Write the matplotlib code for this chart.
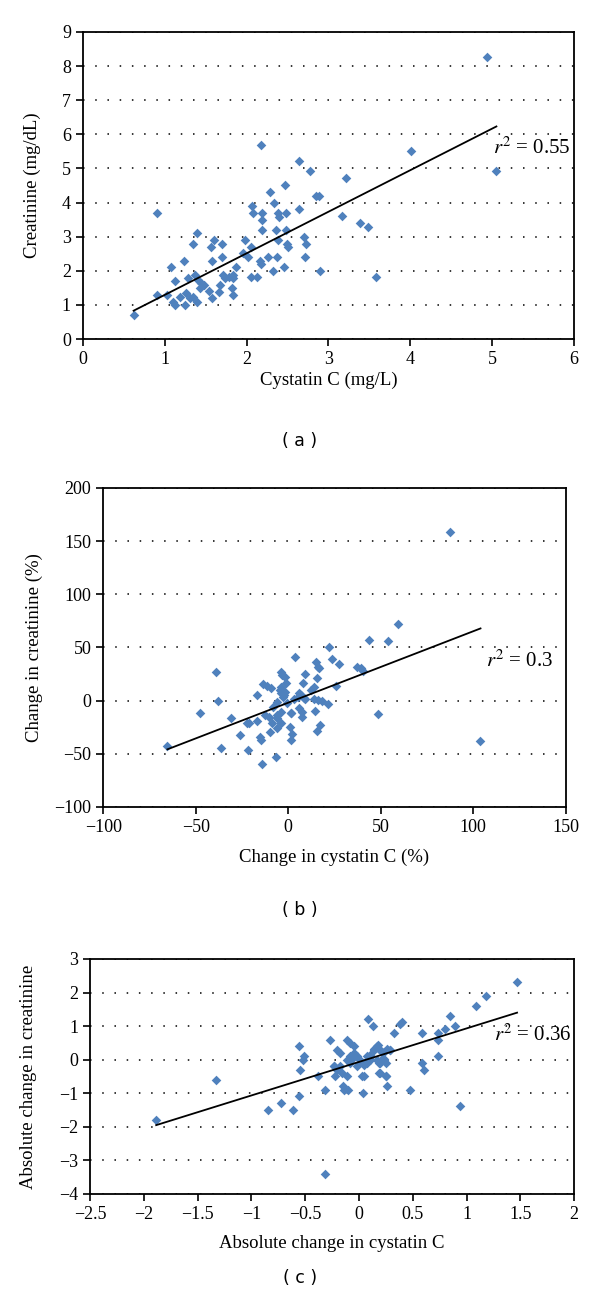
import numpy as np
import matplotlib
matplotlib.use("Agg")
import matplotlib.pyplot as plt
from matplotlib.ticker import FuncFormatter

# (a) cystatin C vs creatinine
cys_a = [0.62, 0.90, 0.91, 1.03, 1.08, 1.10, 1.12, 1.13, 1.19, 1.24, 1.25, 1.26, 1.28, 1.31,
         1.34, 1.35, 1.37, 1.39, 1.40, 1.41, 1.43, 1.44, 1.48, 1.54, 1.56, 1.58, 1.58, 1.60,
         1.66, 1.67, 1.70, 1.70, 1.71, 1.74, 1.78, 1.82, 1.83, 1.84, 1.84, 1.87, 1.96, 1.98,
         2.02, 2.05, 2.05, 2.07, 2.08, 2.13, 2.16, 2.17, 2.19, 2.19, 2.19, 2.26, 2.28, 2.32,
         2.33, 2.36, 2.37, 2.38, 2.38, 2.40, 2.46, 2.47, 2.48, 2.48, 2.49, 2.50, 2.64, 2.70,
         2.72, 2.71, 2.77, 2.85, 2.88, 2.90, 3.16, 3.21, 3.39, 3.48, 3.58, 5.05, 4.93, 2.18,
         4.01, 2.64]
cre_a = [0.70, 3.70, 1.29, 1.29, 2.10, 1.09, 1.00, 1.70, 1.22, 2.30, 1.00, 1.36, 1.80, 1.19,
         2.79, 1.22, 1.88, 3.10, 1.09, 1.73, 1.49, 1.63, 1.58, 1.42, 2.69, 2.30, 1.19, 2.90,
         1.39, 1.58, 2.79, 2.39, 1.88, 1.78, 1.83, 1.49, 1.88, 1.78, 1.29, 2.10, 2.51, 2.90,
         2.39, 2.69, 1.81, 3.90, 3.70, 1.81, 2.30, 2.20, 3.70, 3.49, 3.20, 2.39, 4.30, 2.00,
         4.00, 3.20, 2.39, 2.90, 3.70, 3.59, 2.10, 4.50, 3.70, 3.20, 2.79, 2.69, 3.80, 3.00,
         2.79, 2.39, 4.92, 4.19, 4.19, 2.00, 3.61, 4.73, 3.39, 3.29, 1.81, 4.92, 8.28, 5.70,
         5.50, 5.21]
fit_a = (1.219, 0.074)   # slope, intercept of trend line
span_a = (0.62, 5.05)
r2_a = "0.55"

# (b) percent changes
pct_cys = [87.3, 22.1, 43.7, 53.8, 59.2, 3.4, 23.6, 27.2, 14.8, 16.0, 16.7, 36.9, 39.1, 40.5,
           -4.1, -39.1, -3.2, 8.8, -1.8, 15.3, -1.4, -13.7, -11.3, -9.2, -4.5, 8.1, 25.7, 12.1,
           13.9, -4.1, -2.0, 5.8, 7.0, -17.1, -2.7, 3.1, 8.8, 13.9, 16.0, 18.4, -38.0, -5.9,
           -0.5, 21.4, -8.1, 5.8, -47.7, -12.6, -10.4, -4.1, 1.6, 7.4, 14.4, 48.4, -31.1, -5.9,
           7.2, -16.7, -22.5, -21.2, -4.1, -9.0, -5.9, 0.7, 16.9, 15.3, -9.9, -26.1, 2.0, -15.3,
           -14.6, 1.6, 103.5, -65.3, -36.2, -21.8, -6.8, -14.2, -4.1, -2.3, 5.2, 8.5, -5.9, 1.3]
pct_cre = [158.2, 50.0, 56.9, 56.3, 71.9, 41.4, 39.2, 34.5, 36.1, 32.0, 30.4, 32.0, 30.4, 28.2,
           26.6, 26.6, 24.1, 25.1, 22.6, 21.0, 16.3, 15.7, 14.1, 12.2, 10.0, 16.3, 14.1, 10.0,
           13.2, 6.9, 8.5, 7.5, 5.3, 5.3, 3.8, 1.3, 1.3, 1.3, 0.6, 0.0, 0.0, -0.9,
           -2.5, -3.4, -5.6, -7.2, -11.9, -13.5, -15.0, -10.3, -11.9, -10.3, -9.7, -12.5, -16.6, -16.6,
           -15.7, -18.8, -20.7, -21.3, -20.7, -21.3, -26.0, -25.1, -22.9, -28.2, -29.2, -32.0, -31.3, -33.9,
           -37.0, -37.0, -37.6, -42.6, -44.8, -46.7, -52.7, -59.6, 13.2, 5.3, 3.8, 2.2, -13.5, -11.9]
fit_b = (0.672, -1.9)
span_b = (-65.3, 103.9)
r2_b = "0.3"

# (c) absolute changes
abs_cys = [1.469, 1.181, 1.091, 0.849, 0.890, 0.800, 0.738, 0.589, 0.732, 0.732, 0.589, 0.601,
           0.081, 0.130, 0.322, 0.378, 0.400, -0.273, -0.558, -0.508, -0.520, -0.552, -0.384, -1.327,
           -0.205, -0.180, -0.112, -0.087, -0.043, -0.229, -0.205, -0.112, -0.081, -0.050, -0.019,
           0.012, 0.043, 0.074, 0.105, 0.136, 0.167, 0.198, 0.229, 0.198, 0.251, 0.291, 0.192, 0.248,
           -1.885, -0.849, -0.722, -0.614, -0.561, -0.313, -0.313, -0.236, -0.205, -0.158, -0.220,
           -0.149, -0.136, -0.102, -0.112, 0.028, 0.043, 0.037, 0.189, 0.248, 0.260, 0.471, 0.936,
           -0.174, -0.081, -0.065, -0.019, 0.074, 0.105, 0.183, 0.214, 0.229,
           0.180, 0.195, 0.230, 0.260, 0.290, 0.136, 0.167, 0.214, 0.105, 0.074, 0.043]
abs_cre = [2.30, 1.90, 1.60, 1.30, 1.00, 0.90, 0.80, 0.80, 0.60, 0.10, -0.10, -0.30,
           1.20, 1.00, 0.80, 1.05, 1.12, 0.60, 0.40, 0.10, 0.00, -0.30, -0.50, -0.60,
           0.30, 0.20, 0.60, 0.50, 0.40, -0.20, -0.30, 0.00, 0.10, 0.20, 0.10,
           0.00, -0.10, 0.10, 0.00, 0.30, 0.40, 0.30, 0.00, -0.10, -0.10, 0.30, -0.40, -0.50,
           -1.79, -1.49, -1.29, -1.49, -1.09, -0.89, -3.40, -0.19, -0.29, -0.39, -0.49,
           -0.79, -0.89, -0.89, -0.49, -0.49, -0.49, -0.99, -0.39, -0.49, -0.79, -0.89, -1.39,
           -0.19, -0.09, 0.01, -0.19, -0.09, 0.01, -0.09, 0.01, 0.01,
           0.43, 0.28, 0.23, 0.33, 0.28, 0.33, -0.02, -0.02, 0.13, -0.07, -0.17]
fit_c = (0.999, -0.067)
span_c = (-1.885, 1.469)
r2_c = "0.36"

BLUE = "#4f81bd"
SERIF = "Liberation Serif"

fig = plt.figure(figsize=(6.0, 13.09), dpi=100)
plt.rcParams["mathtext.fontset"] = "stix"


def fmt(v, pos):
    s = f"{v:g}"
    return s.replace("-", "\u2212")


def panel(rect, x, y, fit, span, r2, r2_pos, xlim, ylim, xticks, yticks,
          xlabel, ylabel, xpad, ypad, caption, cap_y):
    ax = fig.add_axes(rect)
    ax.scatter(x, y, marker="D", s=24, color=BLUE, linewidths=0, zorder=3)
    xs = np.array(span)
    ax.plot(xs, fit[0] * xs + fit[1], color="black", lw=1.3, zorder=4)
    ax.set_xlim(*xlim)
    ax.set_ylim(*ylim)
    ax.set_xticks(xticks)
    ax.set_yticks(yticks)
    ax.xaxis.set_major_formatter(FuncFormatter(fmt))
    ax.yaxis.set_major_formatter(FuncFormatter(fmt))
    ax.yaxis.grid(True, color="black", linestyle=(0, (1, 7)), lw=1.1)
    ax.set_axisbelow(True)
    ax.tick_params(direction="out", length=5, width=1.2, labelsize=13)
    for lab in ax.get_xticklabels() + ax.get_yticklabels():
        lab.set_fontfamily(SERIF)
    for sp in ax.spines.values():
        sp.set_linewidth(1.3)
    ax.set_xlabel(xlabel, fontsize=13.5, family=SERIF, labelpad=xpad)
    ax.set_ylabel(ylabel, fontsize=13.5, family=SERIF, labelpad=ypad)
    ax.text(r2_pos[0], r2_pos[1], r"$r^2$ = " + r2, ha="right", va="center",
            fontsize=15, family=SERIF, zorder=5)
    fig.text(0.5, cap_y, caption, ha="center", va="center", fontsize=12.5, family="DejaVu Sans")
    return ax


panel([0.138, 0.741, 0.819, 0.2346], cys_a, cre_a, fit_a, span_a, r2_a, (5.95, 5.6),
      (0, 6), (0, 9), range(0, 7), range(0, 10),
      "Cystatin C (mg/L)", "Creatinine (mg/dL)", 3, 15, "( a )", 1 - 441 / 1309)

panel([0.172, 0.3835, 0.771, 0.2437], pct_cys, pct_cre, fit_b, span_b, r2_b, (143, 37),
      (-100, 150), (-100, 200), range(-100, 151, 50), range(-100, 201, 50),
      "Change in cystatin C (%)", "Change in creatinine (%)", 9, 8, "( b )", 1 - 910 / 1309)

panel([0.15, 0.0879, 0.807, 0.1795], abs_cys, abs_cre, fit_c, span_c, r2_c, (1.98, 0.72),
      (-2.5, 2), (-4, 3), np.arange(-2.5, 2.01, 0.5), range(-4, 4),
      "Absolute change in cystatin C", "Absolute change in creatinine", 9, 16, "( c )", 1 - 1278 / 1309)

fig.savefig("out.png", dpi=100)
